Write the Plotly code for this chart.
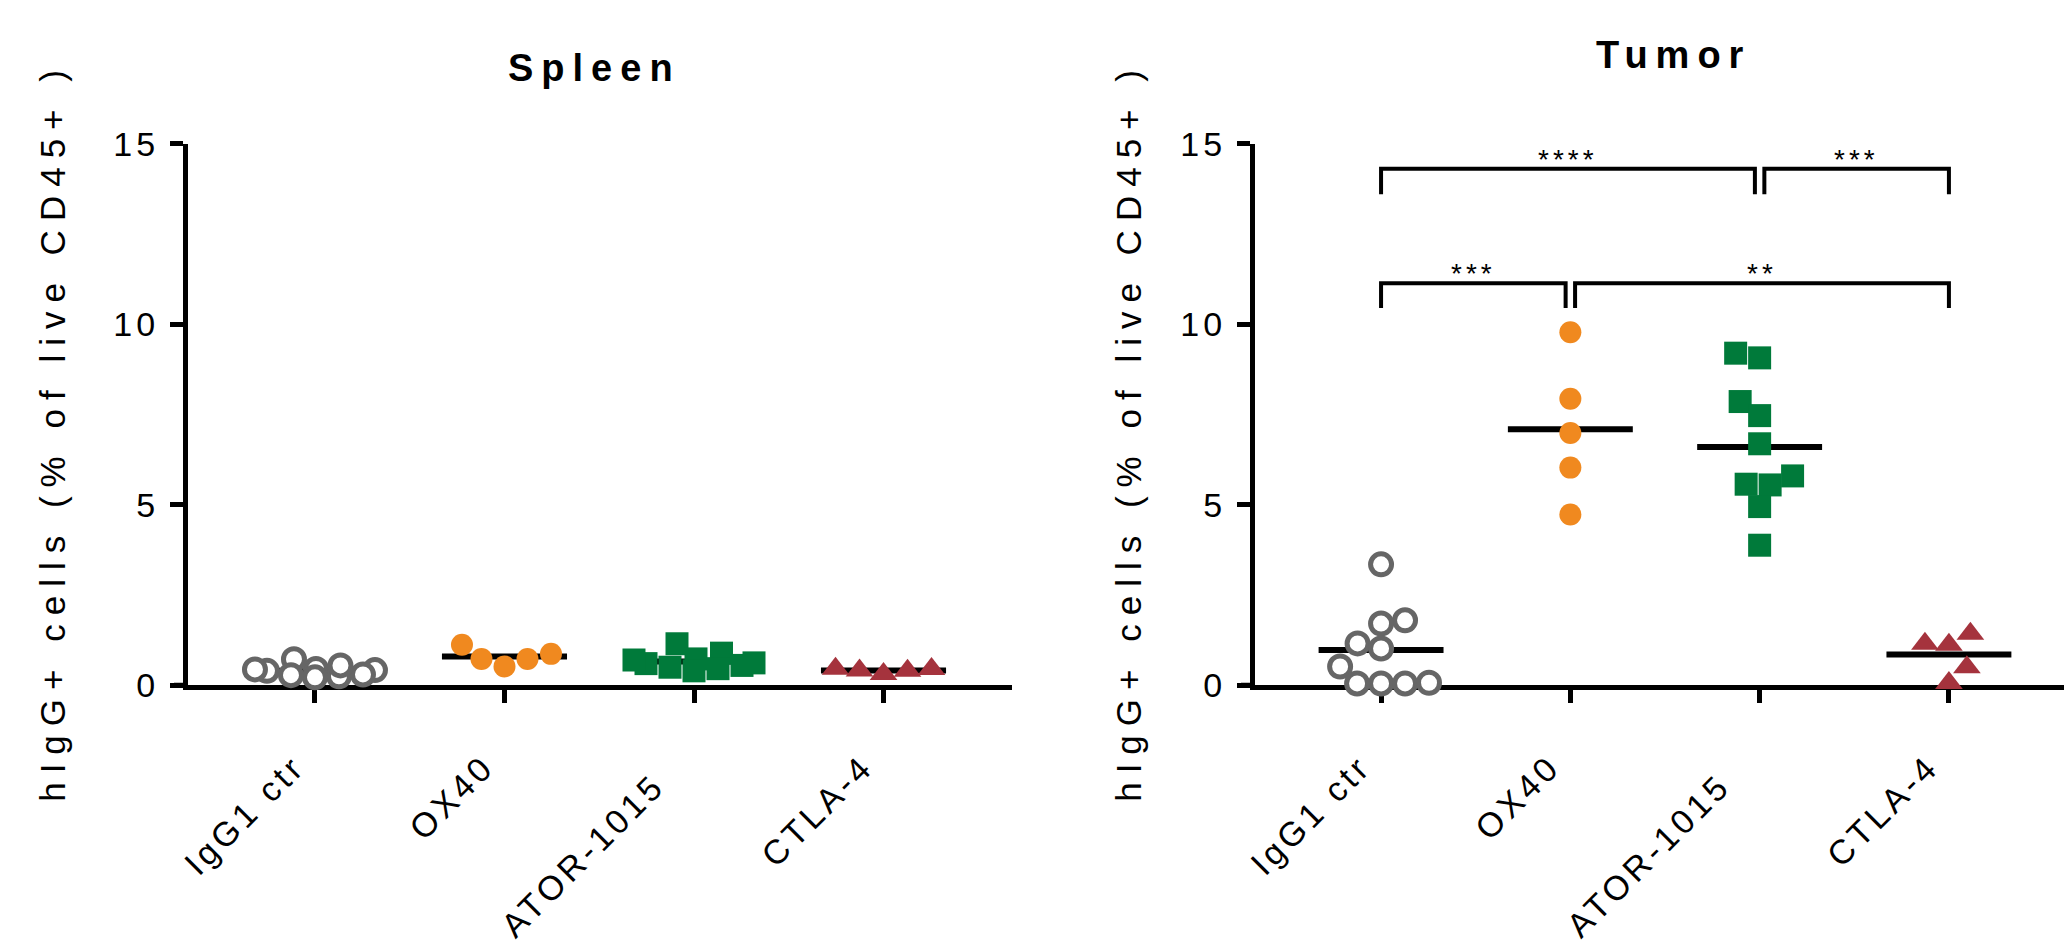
import json
import numpy as np
import plotly.graph_objects as go

# ---------------- data ----------------
categories = ["IgG1 ctr", "OX40", "ATOR-1015", "CTLA-4"]

spleen_igg1 = [0.42, 0.45, 0.40, 0.72, 0.44, 0.25, 0.22, 0.30, 0.28, 0.55]
spleen_ox40 = [1.12, 0.73, 0.52, 0.73, 0.87]
spleen_ator = [1.15, 0.89, 0.73, 0.60, 0.46, 0.55, 0.62, 0.50, 0.70, 0.40]
spleen_ctla4 = [0.46, 0.41, 0.31, 0.40, 0.45]

tumor_igg1 = [3.35, 1.80, 1.71, 1.16, 1.02, 0.52, 0.05, 0.05, 0.05, 0.07]
tumor_ox40 = [9.78, 7.94, 6.99, 6.03, 4.73]
tumor_ator = [9.07, 9.20, 7.86, 7.47, 6.69, 5.80, 5.55, 5.57, 4.95, 3.88]
tumor_ctla4 = [1.15, 1.12, 1.43, 0.50, 0.06]

y_ticks = [0, 5, 10, 15]
panel_titles = ["Spleen", "Tumor"]
y_title = "hIgG+ cells (% of live CD45+ )"

# significance brackets in the Tumor panel: (group a, group b, label)
tumor_brackets_low = [(0, 1, "***"), (1, 3, "**")]
tumor_brackets_high = [(0, 2, "****"), (2, 3, "***")]

# ---------------- styling ----------------
W, H = 2064, 951
FONT = "Liberation Sans, Arial, sans-serif"
GRAY, ORANGE, GREEN, RED = "#666666", "#F0891F", "#007A3A", "#A5333D"
styles = [
    dict(symbol="circle", size=21, color="white", line=dict(color=GRAY, width=5)),
    dict(symbol="circle", size=22, color=ORANGE, line=dict(width=0)),
    dict(symbol="square", size=23, color=GREEN, line=dict(width=0)),
    dict(symbol="triangle-up", size=24, color=RED, line=dict(width=0)),
]

Y_BOT, Y_TOP = 694, 130       # plot area (px from top)
PX_X = 189.5                  # pixels per category unit
PX_Y = 36.3                   # pixels per y unit
MEAN_HALF = 0.33


def swarm(values, diam=24.0, limit_px=60.0):
    """Greedy beeswarm: horizontal offsets (category units) avoiding overlap."""
    vals = np.asarray(values, float)
    order = np.argsort(vals, kind="stable")
    cand = np.arange(-limit_px, limit_px + 0.01, 0.5)
    placed = []
    off = np.zeros(len(vals))
    for i in order:
        y = vals[i] * PX_Y
        if placed:
            P = np.array(placed)
            d = np.sqrt((cand[:, None] - P[None, :, 0]) ** 2 + (y - P[None, :, 1]) ** 2)
            ov = np.clip(diam - d, 0, None).sum(axis=1)
            ok = ov <= ov.min() + 1e-9
            mags = np.abs(cand[ok])
            opts = cand[ok][np.isclose(mags, mags.min())]
            bias = P[:, 0].sum()
            if len(opts) > 1:
                best = opts.min() if bias > 0 else opts.max()
            else:
                best = opts[0]
        else:
            best = 0.0
        placed.append((best, y))
        off[i] = best / PX_X
    return off


fig = go.Figure()

panels = [
    ("x", "y", [spleen_igg1, spleen_ox40, spleen_ator, spleen_ctla4]),
    ("x2", "y2", [tumor_igg1, tumor_ox40, tumor_ator, tumor_ctla4]),
]

for xa, ya, groups in panels:
    for gi, vals in enumerate(groups):
        m = float(np.mean(vals))
        fig.add_trace(go.Scatter(x=[gi - MEAN_HALF, gi + MEAN_HALF], y=[m, m], mode="lines",
                                 line=dict(color="black", width=6), xaxis=xa, yaxis=ya,
                                 hoverinfo="skip", cliponaxis=False))
    for gi, vals in enumerate(groups):
        off = swarm(vals)
        fig.add_trace(go.Scatter(x=gi + off, y=vals, mode="markers", marker=styles[gi],
                                 xaxis=xa, yaxis=ya, cliponaxis=False, name=categories[gi]))

annotations = []
ann_ls = []


def add_brackets(level, top, leg):
    ends = [a for a, b, _ in level] + [b for a, b, _ in level]
    for a, b, lab in level:
        left = a + (0.025 if ends.count(a) > 1 else 0)
        right = b - (0.025 if ends.count(b) > 1 else 0)
        fig.add_trace(go.Scatter(x=[left, left, right, right], y=[leg, top, top, leg], mode="lines",
                                 line=dict(color="black", width=4), xaxis="x2", yaxis="y2",
                                 hoverinfo="skip", cliponaxis=False))
        annotations.append(dict(x=(left + right) / 2, y=top, xref="x2", yref="y2", text=lab,
                                showarrow=False, xanchor="center", yanchor="bottom", yshift=-8,
                                font=dict(family=FONT, size=28, color="black")))
        ann_ls.append(4)


add_brackets(tumor_brackets_low, 11.14, 10.45)
add_brackets(tumor_brackets_high, 14.31, 13.6)

# panel titles
annotations.append(dict(x=594 / W, y=1 - 51 / H, xref="paper", yref="paper",
                        text="<b>%s</b>" % panel_titles[0], showarrow=False,
                        xanchor="center", yanchor="middle",
                        font=dict(family=FONT, size=38, color="black")))
ann_ls.append(8)
annotations.append(dict(x=1674 / W, y=1 - 37 / H, xref="paper", yref="paper",
                        text="<b>%s</b>" % panel_titles[1], showarrow=False,
                        xanchor="center", yanchor="middle",
                        font=dict(family=FONT, size=38, color="black")))
ann_ls.append(8)
# y titles
for xc in (53, 1129):
    annotations.append(dict(x=xc / W, y=1 - 430 / H, xref="paper", yref="paper", text=y_title,
                            textangle=-90, showarrow=False, xanchor="center", yanchor="middle",
                            font=dict(family=FONT, size=35, color="black")))
    ann_ls.append(9)

axis_common = dict(showline=True, linewidth=5, linecolor="black", ticks="outside", ticklen=13,
                   tickwidth=5, tickcolor="black", showgrid=False, zeroline=False,
                   tickfont=dict(family=FONT, size=34, color="black"), layer="below traces",
                   fixedrange=True)
# trailing no-break spaces keep the long label's end further from its tick, as in the original
cat_text = [c + ("\u00a0" * 2 if len(c) > 8 else "") for c in categories]
xcat = dict(tickvals=list(range(4)), ticktext=cat_text, tickangle=-45,
            ticklabelstandoff=30, ticklabelshift=-20)
ycat = dict(tickvals=y_ticks, range=[0, 15], ticklabelstandoff=4)

ydom = [1 - Y_BOT / H, 1 - Y_TOP / H]
fig.update_layout(
    width=W, height=H, margin=dict(l=0, r=0, t=0, b=0, pad=0), autosize=False,
    paper_bgcolor="white", plot_bgcolor="white", showlegend=False,
    xaxis=dict(domain=[188 / W, 1012 / W], range=[-0.670, 3.678], anchor="y", **xcat, **axis_common),
    yaxis=dict(domain=ydom, anchor="x", **ycat, **axis_common),
    xaxis2=dict(domain=[1255 / W, 1.0], range=[-0.666, 3.608], anchor="y2", **xcat, **axis_common),
    yaxis2=dict(domain=ydom, anchor="x2", **ycat, **axis_common),
    annotations=annotations,
    shapes=[
        dict(type="line", xref="x domain", yref="y", x0=-14 / 824, x1=0, y0=0, y1=0,
             line=dict(color="black", width=5)),
        dict(type="line", xref="x2 domain", yref="y2", x0=-14 / 809, x1=0, y0=0, y1=0,
             line=dict(color="black", width=5)),
    ],
)

post = """
document.documentElement.style.margin = '0';
document.documentElement.style.overflow = 'hidden';
document.body.style.margin = '0';
document.body.style.padding = '0';
document.body.style.overflow = 'hidden';
var gd = document.getElementById('{plot_id}');
var annLS = %s;
function setLS(sel, v){ gd.querySelectorAll(sel).forEach(function(e){ e.style.letterSpacing = v; }); }
setLS('.xtick text', '4px');
setLS('.x2tick text', '4px');
setLS('.ytick text', '4px');
setLS('.y2tick text', '4px');
gd.querySelectorAll('.annotation').forEach(function(a){
  var i = parseInt(a.getAttribute('data-index'));
  var t = a.querySelector('text');
  if (t && !isNaN(i) && annLS[i] !== undefined) { t.style.letterSpacing = annLS[i] + 'px'; }
});
""" % json.dumps(ann_ls)

fig.write_html("out.html", post_script=post, config={"displayModeBar": False})
